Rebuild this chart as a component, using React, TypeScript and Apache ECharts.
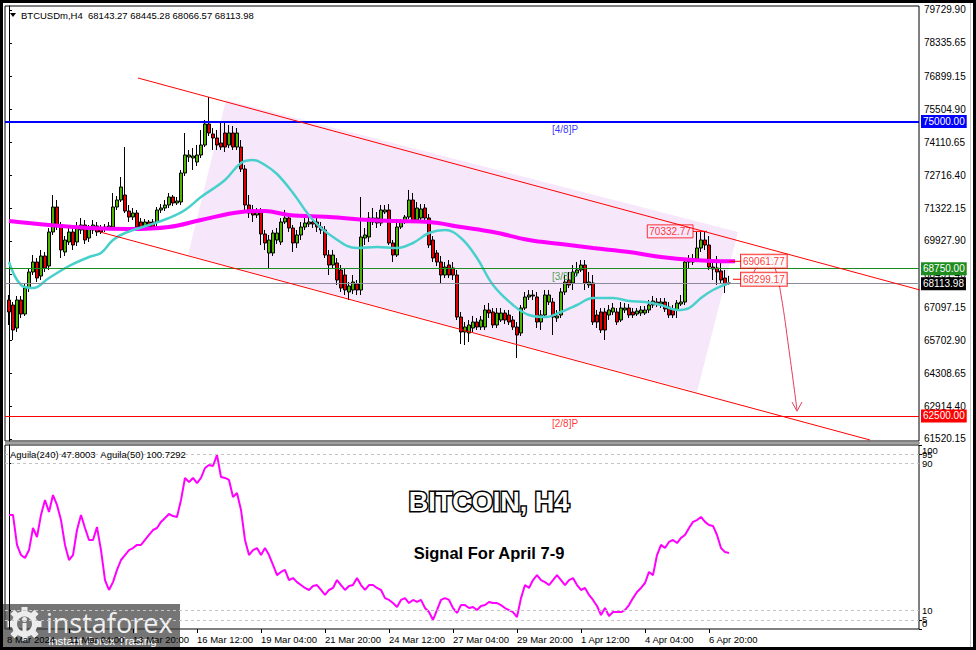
import React, { useEffect, useRef } from 'react';
import * as echarts from 'echarts';

const FONT = '"Liberation Sans", Arial, sans-serif';

// ---- H4 candles (bar index 0 = 8 Mar 16:00) ----
const opens = [
  67419, 67207, 66230, 67419, 66825, 67928, 68608, 69032, 68438, 69287,
  68862, 70306, 71367, 70603, 69457, 69881, 70306, 69881, 70391, 70603,
  70051, 70391, 70561, 70476, 70433, 70476, 70518, 71367, 71664, 71876,
  71197, 70942, 71112, 70730, 70561, 70730, 70730, 70730, 71240, 71324,
  71452, 71791, 71537, 71579, 72810, 73489, 73447, 73277, 73574, 73999,
  74890, 74466, 74296, 74084, 74508, 73999, 74508, 73914, 73914, 72980,
  71452, 71240, 71027, 71155, 70221, 69414, 69414, 69966, 69881, 70730,
  70900, 70476, 69839, 70178, 70518, 70645, 70730, 70730, 70518, 70391,
  69329, 68905, 68990, 68693, 68480, 67759, 67844, 68098, 67844, 70051,
  70094, 70730, 70900, 70688, 71155, 71240, 69839, 69329, 70518, 70730,
  70942, 71664, 70815, 70900, 71324, 70900, 69966, 69414, 69032, 68480,
  68905, 68777, 68480, 66697, 66061, 66018, 66230, 66485, 66273, 66273,
  66995, 66910, 66358, 66570, 66867, 66782, 66570, 66273, 66018, 67079,
  67547, 67631, 67547, 66485, 66782, 67334, 67334, 66655, 66782, 67759,
  68268, 68141, 68565, 68693, 68905, 68056, 68141, 66782, 66910, 66910,
  66782, 66910, 66910, 66570, 66995, 67079, 66910, 66825, 66867, 66867,
  66995, 67207, 67334, 67249, 67334, 67122, 67037, 66995, 67249, 67334,
  69032, 69032, 69117, 69626, 69966, 69754, 68820, 68777, 68650, 68353,
  68143.27,
];
const closes = [
  66910, 66146, 67419, 66825, 67928, 68608, 69032, 68353, 69287, 68777,
  70306, 71367, 70603, 69542, 69966, 70306, 69754, 70476, 70603, 69966,
  70476, 70603, 70306, 70306, 70518, 70561, 71367, 71664, 72216, 71197,
  70942, 71112, 70518, 70518, 70730, 70518, 70518, 71240, 71324, 71452,
  71791, 71537, 71622, 72810, 73574, 73574, 73532, 73574, 73999, 74890,
  74508, 74296, 73999, 73914, 73914, 74508, 73914, 74508, 72980, 71452,
  71112, 71027, 71197, 70221, 69839, 69966, 70263, 70263, 70730, 70900,
  70476, 69839, 70178, 70518, 70688, 70730, 70645, 70518, 70391, 69329,
  68905, 69329, 68268, 67928, 67844, 68013, 68183, 67844, 70094, 70178,
  70900, 70900, 70688, 71240, 71240, 69839, 69329, 70518, 70730, 70942,
  71664, 70815, 71324, 71282, 70900, 69754, 69202, 69032, 68480, 68820,
  68480, 68480, 66697, 66061, 66273, 66358, 66485, 66273, 66570, 66995,
  66867, 66358, 66867, 66867, 66570, 66485, 66273, 65933, 67079, 67547,
  67631, 67589, 66485, 66782, 67631, 67631, 66697, 66740, 67759, 68183,
  68056, 68608, 68693, 68905, 68141, 68183, 66485, 66485, 66146, 66146,
  66995, 67079, 66485, 67079, 67079, 66782, 66782, 66952, 66995, 66995,
  67207, 67377, 67249, 67334, 67037, 66782, 66782, 67292, 67334, 69032,
  69075, 69117, 69626, 69966, 69754, 68820, 68735, 68608, 68268, 68056,
  68113.98,
];
const highs = [
  67631, 67334, 67589, 67589, 68098, 68777, 69329, 69202, 69542, 69457,
  70476, 71876, 71664, 70730, 70136, 70476, 70476, 70730, 70900, 70815,
  70603, 70815, 70730, 70603, 70645, 70730, 71961, 71834, 72640, 73914,
  71452, 71324, 71240, 70900, 70857, 70815, 70857, 71367, 71494, 71664,
  71961, 71876, 71791, 72938, 74508, 73787, 73871, 73999, 74636, 75060,
  76036, 74720, 74636, 74933, 74933, 74848, 74805, 74720, 74211, 73150,
  71876, 71452, 71324, 71324, 70391, 70178, 70391, 70476, 70900, 71240,
  71070, 70603, 70391, 70730, 70900, 70900, 71027, 70900, 70730, 70561,
  69542, 69542, 69202, 68905, 68777, 68183, 68480, 68268, 71791, 70476,
  71155, 71324, 71155, 71452, 71452, 71494, 69966, 70688, 70857, 71027,
  72089, 71961, 71579, 71494, 71494, 71070, 70136, 69542, 69287, 69032,
  69117, 69032, 68693, 66910, 66485, 66570, 66740, 66655, 66740, 67207,
  67292, 67079, 67079, 67079, 66995, 66995, 66740, 66485, 67207, 67759,
  67844, 67844, 67759, 66995, 67844, 67844, 67504, 66995, 67928, 68480,
  68608, 68905, 69032, 69117, 69117, 68608, 68480, 66995, 67079, 67079,
  67207, 67292, 67079, 67334, 67292, 67249, 67079, 67079, 67164, 67164,
  67419, 67589, 67504, 67504, 67504, 67334, 67207, 67419, 67631, 69202,
  69329, 69372, 70306, 70306, 70333, 70136, 69117, 69287, 69032, 68693,
  68445.28,
];
const lows = [
  66358, 65721, 66061, 66655, 66740, 67759, 68480, 68183, 68268, 68608,
  68693, 70178, 70391, 69202, 69287, 69754, 69542, 69711, 70221, 69796,
  69881, 70221, 70136, 70221, 70306, 70391, 70433, 71240, 71579, 71112,
  70730, 70815, 70391, 70391, 70391, 70391, 70433, 70561, 71112, 71197,
  71324, 71409, 71452, 71452, 72683, 73277, 72938, 73107, 73447, 73914,
  74381, 73787, 73787, 73787, 73702, 73872, 73787, 73787, 72853, 71240,
  70900, 70730, 70900, 69754, 69542, 68777, 69287, 69796, 69754, 70645,
  70306, 69457, 69626, 69966, 70391, 70518, 70476, 70306, 70221, 69202,
  68480, 68777, 68056, 67759, 67631, 67419, 67674, 67631, 67631, 69754,
  69881, 70603, 70476, 70561, 71070, 69754, 69032, 69244, 70433, 70645,
  70857, 70730, 70688, 70773, 70730, 69626, 69032, 68862, 68098, 68353,
  68353, 68268, 66570, 65551, 65509, 65636, 66061, 66146, 66146, 66146,
  66655, 66230, 66230, 66485, 66400, 66358, 66146, 64957, 65891, 66995,
  67419, 67419, 66230, 66146, 66655, 67207, 65933, 66485, 66655, 67631,
  67928, 67844, 68438, 68608, 67844, 67928, 66358, 66230, 66018, 65721,
  66570, 66782, 66358, 66485, 66867, 66655, 66655, 66740, 66740, 66782,
  66867, 67079, 67122, 67079, 66910, 66655, 66655, 66655, 67164, 67207,
  68777, 68905, 69032, 69457, 69542, 68693, 68268, 68056, 68141, 67716,
  68066.57,
];

// ---- moving averages (bar index, price) ----
const slowMa = [
  [0, 70773], [10, 70603], [20, 70476], [30, 70433], [40, 70518], [48, 70815],
  [58, 71155], [64, 71197], [70, 71027], [80, 70942], [90, 70815], [97, 70773],
  [105, 70730], [113, 70518], [121, 70306], [130, 69966], [138, 69796], [146, 69626],
  [155, 69457], [163, 69244], [171, 69117], [180, 69062], [181.5, 69061.77],
];
const fastMa = [
  [0, 69032], [3, 68056], [6, 67928], [10, 68353], [15, 68862], [20, 69244],
  [23, 69414], [26, 69966], [29, 70263], [35, 70603], [40, 70900], [44, 71240],
  [48, 71791], [54, 72513], [58, 73235], [61, 73362], [64, 73150], [67, 72768],
  [71, 71961], [76, 70815], [81, 70094], [87, 69626], [92, 69669], [97, 69626],
  [101, 69839], [105, 70263], [109, 70391], [113, 70051], [117, 69202], [121, 68056],
  [126, 67207], [130, 66782], [134, 66697], [138, 66910], [142, 67207], [146, 67504],
  [151, 67504], [155, 67377], [159, 67334], [163, 67207], [167, 66995], [170, 67079],
  [173, 67504], [176, 67844], [180, 68141],
];

// ---- Aguila(240) oscillator ----
const aguila240 = [
  62.0, 62.0, 45.7, 40.2, 38.6, 42.9, 54.9, 50.0, 62.0, 70.1,
  63.6, 72.8, 67.4, 59.2, 45.7, 37.5, 40.2, 53.8, 62.0, 54.9,
  48.4, 48.4, 55.4, 42.9, 26.6, 21.2, 25.5, 32.1, 37.5, 40.2,
  42.9, 44.0, 45.7, 45.7, 48.4, 51.1, 53.8, 54.9, 58.2, 60.3,
  62.5, 61.4, 60.9, 70.1, 82.1, 79.9, 82.1, 79.3, 82.1, 87.5,
  89.1, 88.6, 94.6, 82.6, 82.1, 81.0, 71.7, 73.9, 64.7, 48.4,
  40.2, 42.9, 44.0, 40.2, 44.0, 40.2, 34.8, 29.3, 31.0, 32.1,
  26.6, 27.7, 25.5, 23.9, 22.3, 21.2, 23.4, 23.9, 21.2, 18.5,
  21.2, 22.3, 26.6, 23.9, 21.2, 23.4, 23.9, 27.7, 23.9, 21.2,
  23.9, 23.9, 22.3, 21.2, 16.8, 15.8, 14.1, 12.0, 15.8, 16.8,
  14.1, 15.8, 14.7, 15.8, 11.4, 9.2, 4.9, 10.3, 15.8, 16.8,
  15.8, 11.4, 8.7, 13.0, 13.0, 11.4, 12.0, 10.3, 12.5, 13.0,
  14.7, 14.1, 14.1, 13.0, 11.4, 10.3, 9.2, 6.5, 16.8, 23.9,
  22.3, 26.6, 29.3, 26.6, 25.5, 23.9, 26.6, 29.3, 26.6, 23.9,
  26.6, 27.7, 23.9, 21.2, 22.3, 18.5, 15.8, 12.5, 7.6, 11.4,
  7.1, 9.2, 9.2, 9.2, 10.3, 13.0, 16.8, 20.1, 22.3, 25.0,
  31.0, 29.3, 40.2, 45.7, 44.0, 47.3, 48.4, 46.7, 49.5, 51.1,
  54.9, 58.2, 59.2, 60.9, 58.2, 56.5, 56.0, 51.1, 44.0, 41.8,
  41.3,
];
const oscLevels = [95, 90, 10, 5];
const oscTicksInner = [10, 90];
const oscTicksMid = [5, 95];
const oscTicksEnd = [0, 100];

// ---- axes ----
const priceTicks = [
  79729.9, 78335.65, 76899.15, 75504.9, 74110.65, 72716.4, 71322.15,
  69927.9, 68491.4, 67097.15, 65702.9, 64308.65, 62914.4, 61520.15,
];
const timeLabelIdx = [-0.5, 15, 31, 47, 63, 79, 95, 111, 127, 143, 159, 175];
const timeLabels = [
  '8 Mar 2024', '11 Mar 04:00', '13 Mar 20:00', '16 Mar 12:00', '19 Mar 04:00',
  '21 Mar 20:00', '24 Mar 12:00', '27 Mar 04:00', '29 Mar 20:00', '1 Apr 12:00',
  '4 Apr 04:00', '6 Apr 20:00',
];
const timeTickIdx = [15, 31, 47, 63, 79, 95, 111, 127, 143, 159, 175];

// ---- drawn objects ----
const levelValues = [75000, 68750, 62500];
const levelNames = ['[4/8]P', '[3/8]P', '[2/8]P'];
const levelTexts = ['75000.00', '68750.00', '62500.00'];
const upperChannel = [[32.25, 76843], [227.75, 67844]];
const lowerChannel = [[22.75, 70306], [215.25, 61476]];
const channelFill = [[54.25, 75909], [182.25, 70306], [172, 63514], [44.75, 69329]];
const highMark = { idx: 171, toIdx: 174.5, price: 70332.77, text: '70332.77' };
const maMark = { fromIdx: 180, idx: 183, price: 69061.77, text: '69061.77' };
const lineMark = { fromIdx: 181, idx: 183, price: 68299.17, text: '68299.17' };
const arrowPath = [[185.75, 68438], [187.75, 69032], [189.75, 69287], [191.5, 68777], [193, 67631], [195, 65297], [197, 62750]];
const arrowHead = [[195.75, 63090], [197, 62700], [198.25, 63090]];

export default function App() {
  const ref = useRef<HTMLDivElement>(null);

  useEffect(() => {
    const chart = echarts.init(ref.current as HTMLDivElement, null, { renderer: 'svg' });
    const candles = opens.map((o, i) => [i, o, closes[i], lows[i], highs[i]]);
    const lastClose = closes[closes.length - 1];

    const boxLabel = {
      show: true,
      position: 'end',
      distance: 2,
      color: '#fff',
      fontSize: 10,
      fontFamily: FONT,
      padding: [2, 2, 1, 2],
    };
    const levelColors = ['#0000ff', '#1e8c1e', '#ff0000'];

    const redLine = (data: number[][], extra: any = {}) => ({
      type: 'line',
      xAxisIndex: 0,
      yAxisIndex: 0,
      data,
      showSymbol: false,
      symbol: 'none',
      silent: true,
      lineStyle: { color: '#ff0000', width: 1 },
      z: 5,
      ...extra,
    });

    const teeth = [0, 1, 2, 3, 4, 5, 6, 7].map((k) => ({
      type: 'rect',
      shape: { x: 21.5, y: 3, width: 6, height: 6 },
      rotation: (-k * Math.PI) / 4,
      originX: 24.5,
      originY: 20,
      style: { fill: '#ececec' },
    }));

    const oscAxis = (values: number[], showLine: boolean, rich = false) => ({
      type: 'value', gridIndex: 1, position: 'right', min: 0, max: 100,
      splitLine: { show: false },
      axisLine: { show: showLine, lineStyle: { color: '#000' } },
      axisTick: { show: true, customValues: values, length: 3, lineStyle: { color: '#000' } },
      axisLabel: {
        customValues: values,
        formatter: rich
          ? (v: number) => (v === 100 ? '{t|100}' : '{b|0}')
          : (v: number) => String(v),
        rich: {
          t: { padding: [10, 0, 0, 0], fontSize: 9.5, fontFamily: FONT, color: '#000' },
          b: { padding: [0, 0, 12, 0], fontSize: 9.5, fontFamily: FONT, color: '#000' },
        },
        showMinLabel: true, showMaxLabel: true,
        margin: 3, fontSize: 9.5, color: '#000', fontFamily: FONT,
      },
    });

    const option: any = {
      animation: false,
      backgroundColor: '#ffffff',
      grid: [
        { left: 5, top: 6, width: 914, height: 435, show: true, borderColor: '#000', borderWidth: 1, backgroundColor: '#fff' },
        { left: 5, top: 445, width: 914, height: 184, show: true, borderColor: '#000', borderWidth: 1, backgroundColor: '#fff' },
      ],
      xAxis: [
        { type: 'value', gridIndex: 0, min: -1, max: 227.5, show: false },
        {
          type: 'value', gridIndex: 1, min: -1, max: 227.5,
          axisLine: { show: false },
          splitLine: { show: false },
          axisTick: { show: true, customValues: timeTickIdx, length: 4, lineStyle: { color: '#000' } },
          axisLabel: {
            customValues: timeLabelIdx,
            formatter: (v: number) => {
              const k = timeLabelIdx.indexOf(v);
              return k >= 0 ? timeLabels[k] : '';
            },
            showMinLabel: true, showMaxLabel: true,
            align: 'left', margin: 5, fontSize: 9.5, color: '#000', fontFamily: FONT,
          },
        },
      ],
      yAxis: [
        {
          type: 'value', gridIndex: 0, position: 'right', min: 61434, max: 79899.5,
          axisLine: { show: true, lineStyle: { color: '#000' } },
          splitLine: { show: false },
          axisTick: { show: true, customValues: priceTicks, length: 3, lineStyle: { color: '#000' } },
          axisLabel: {
            customValues: priceTicks,
            formatter: (v: number) => v.toFixed(2),
            showMinLabel: true, showMaxLabel: true,
            margin: 5, fontSize: 10, color: '#000', fontFamily: FONT,
          },
        },
        oscAxis(oscTicksInner, true),
        oscAxis(oscTicksMid, false),
        oscAxis(oscTicksEnd, false, true),
      ],
      series: [
        {
          type: 'custom',
          xAxisIndex: 0,
          yAxisIndex: 0,
          silent: true,
          clip: true,
          z: 1,
          data: [[0, 70000]],
          renderItem: (_p: any, api: any) => ({
            type: 'polygon',
            shape: { points: channelFill.map((pt) => api.coord(pt)) },
            style: { fill: '#f6e7fb' },
          }),
        },
        {
          type: 'candlestick',
          xAxisIndex: 0,
          yAxisIndex: 0,
          data: candles,
          barWidth: 3,
          silent: true,
          z: 3,
          itemStyle: {
            color: '#4cb300',
            color0: '#e00000',
            borderColor: '#000',
            borderColor0: '#000',
            borderWidth: 1,
          },
          markLine: {
            silent: true,
            symbol: ['none', 'none'],
            animation: false,
            data: [
              { yAxis: levelValues[0], lineStyle: { color: levelColors[0], width: 2, type: 'solid' }, label: { ...boxLabel, formatter: levelTexts[0], backgroundColor: levelColors[0] } },
              { yAxis: levelValues[1], lineStyle: { color: levelColors[1], width: 1, type: 'solid' }, label: { ...boxLabel, formatter: levelTexts[1], backgroundColor: levelColors[1] } },
              { yAxis: lastClose, lineStyle: { color: '#8a8a9c', width: 1, type: 'solid' }, label: { ...boxLabel, formatter: lastClose.toFixed(2), backgroundColor: '#000' } },
              { yAxis: levelValues[2], lineStyle: { color: levelColors[2], width: 1, type: 'solid' }, label: { ...boxLabel, formatter: levelTexts[2], backgroundColor: levelColors[2] } },
            ],
          },
        },
        {
          type: 'line', xAxisIndex: 0, yAxisIndex: 0, data: slowMa, smooth: 0.4,
          showSymbol: false, symbol: 'none', silent: true, z: 4,
          lineStyle: { color: '#ff00ff', width: 4 },
        },
        {
          type: 'line', xAxisIndex: 0, yAxisIndex: 0, data: fastMa, smooth: 0.4,
          showSymbol: false, symbol: 'none', silent: true, z: 4,
          lineStyle: { color: '#48d1cc', width: 2.5 },
        },
        redLine(upperChannel),
        redLine(lowerChannel),
        redLine([[highMark.idx, highMark.price], [highMark.toIdx, highMark.price]]),
        redLine([[maMark.fromIdx, maMark.price], [maMark.idx, maMark.price]]),
        redLine([[lineMark.fromIdx, lineMark.price], [lineMark.idx, lineMark.price]]),
        redLine(arrowPath, { smooth: 0.45, lineStyle: { color: '#e23c5c', width: 1 } }),
        redLine(arrowHead, { lineStyle: { color: '#e23c5c', width: 1 } }),
        {
          type: 'scatter',
          xAxisIndex: 0,
          yAxisIndex: 0,
          symbolSize: 0,
          silent: true,
          z: 7,
          label: { show: true, fontSize: 10, fontFamily: FONT },
          data: [
            ...levelValues.map((v, k) => ({
              value: [135.75, v],
              label: { formatter: levelNames[k], color: levelColors[k], position: [0, 3], align: 'left', verticalAlign: 'top' },
            })),
            {
              value: [highMark.idx, highMark.price],
              label: { formatter: highMark.text, position: 'left', distance: 0, color: '#ff0000', borderColor: '#ff0000', borderWidth: 1, padding: [2, 2, 1, 2] },
            },
            {
              value: [maMark.idx, maMark.price],
              label: { formatter: maMark.text, position: 'right', distance: 0, color: '#ff0000', borderColor: '#ff0000', borderWidth: 1, backgroundColor: '#fff', padding: [2, 2, 1, 2] },
            },
            {
              value: [lineMark.idx, lineMark.price],
              label: { formatter: lineMark.text, position: 'right', distance: 0, color: '#ff0000', borderColor: '#ff0000', borderWidth: 1, backgroundColor: '#fff', padding: [2, 2, 1, 2] },
            },
          ],
        },
        {
          type: 'line',
          xAxisIndex: 1,
          yAxisIndex: 1,
          data: aguila240.map((v, i) => [i, v]),
          showSymbol: false,
          symbol: 'none',
          silent: true,
          z: 4,
          lineStyle: { color: '#ff00ff', width: 2 },
          markLine: {
            silent: true,
            symbol: ['none', 'none'],
            label: { show: false },
            lineStyle: { color: '#c4c4c4', width: 1, type: [3, 3] },
            data: oscLevels.map((v) => ({ yAxis: v })),
          },
        },
      ],
      graphic: [
        { type: 'rect', z: 300, silent: true, shape: { x: 0, y: 0, width: 976, height: 3 }, style: { fill: '#000' } },
        { type: 'rect', z: 300, silent: true, shape: { x: 0, y: 0, width: 3, height: 650 }, style: { fill: '#000' } },
        { type: 'rect', z: 300, silent: true, shape: { x: 973, y: 0, width: 3, height: 650 }, style: { fill: '#000' } },
        { type: 'rect', z: 300, silent: true, shape: { x: 0, y: 647, width: 976, height: 3 }, style: { fill: '#000' } },
        { type: 'rect', z: 300, silent: true, shape: { x: 970, y: 3, width: 1, height: 644 }, style: { fill: '#c8c8c8' } },
        { type: 'rect', z: 50, silent: true, shape: { x: 5, y: 442, width: 915, height: 2 }, style: { fill: '#a0a0a0' } },
        { type: 'polygon', z: 50, silent: true, shape: { points: [[10, 13], [16, 13], [13, 17]] }, style: { fill: '#000' } },
        {
          type: 'text', z: 50, silent: true, x: 21, y: 15,
          style: { text: 'BTCUSDm,H4  68143.27 68445.28 68066.57 68113.98', fontSize: 9.5, fontFamily: FONT, fill: '#000', verticalAlign: 'middle' },
        },
        {
          type: 'text', z: 50, silent: true, x: 10, y: 454,
          style: { text: 'Aguila(240) 47.8003  Aguila(50) 100.7292', fontSize: 9.5, fontFamily: FONT, fill: '#000', verticalAlign: 'middle' },
        },
        {
          type: 'text', z: 60, silent: true, x: 489, y: 502,
          style: {
            text: 'BITCOIN, H4', fontSize: 27, fontWeight: 'bold', fontFamily: FONT,
            fill: '#ffffff', stroke: '#000000', lineWidth: 3, strokeFirst: true,
            align: 'center', verticalAlign: 'middle',
          },
        },
        {
          type: 'text', z: 60, silent: true, x: 489, y: 553,
          style: {
            text: 'Signal For April 7-9', fontSize: 16.5, fontWeight: 'bold', fontFamily: FONT,
            fill: '#000000', align: 'center', verticalAlign: 'middle',
          },
        },
        {
          type: 'group', z: 200, silent: true, x: 0, y: 604,
          children: [
            { type: 'rect', shape: { x: 0, y: 0, width: 180, height: 46 }, style: { fill: 'rgba(64,64,64,0.72)' } },
            ...teeth,
            { type: 'ring', shape: { cx: 24.5, cy: 20, r: 13, r0: 7.5 }, style: { fill: '#ececec' } },
            { type: 'circle', shape: { cx: 24.5, cy: 15.5, r: 2.5 }, style: { fill: '#ececec' } },
            { type: 'rect', shape: { x: 22.5, y: 19, width: 4, height: 9 }, style: { fill: '#ececec' } },
            {
              type: 'text', x: 46, y: 18,
              style: { text: 'instaforex', fontSize: 27, fontFamily: '"Open Sans", sans-serif', fill: '#f0f0f0', verticalAlign: 'middle' },
            },
            {
              type: 'text', x: 48, y: 36.5,
              style: { text: 'Instant Forex Trading', fontSize: 11.5, fontFamily: FONT, fill: '#ffffff', verticalAlign: 'middle' },
            },
          ],
        },
      ],
    };

    chart.setOption(option);
    return () => chart.dispose();
  }, []);

  return (
    <div
      ref={ref}
      style={{ position: 'absolute', left: 0, top: 0, width: 976, height: 650, background: '#fff' }}
    />
  );
}
